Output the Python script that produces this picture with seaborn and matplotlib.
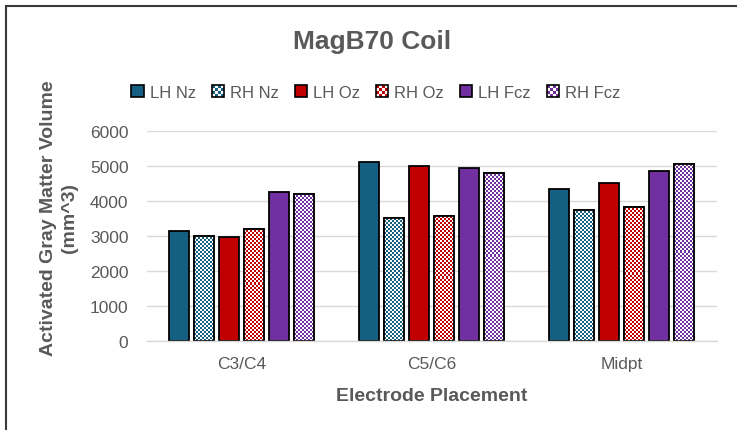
import numpy as np
import pandas as pd
import matplotlib
matplotlib.use("Agg")
import matplotlib.pyplot as plt
import seaborn as sns
from matplotlib.patches import Rectangle, Patch
from matplotlib.legend_handler import HandlerBase

# ---------------- data ----------------
categories = ["C3/C4", "C5/C6", "Midpt"]
series = ["LH Nz", "RH Nz", "LH Oz", "RH Oz", "LH Fcz", "RH Fcz"]
lh_nz = [3135, 5105, 4345]
rh_nz = [3000, 3525, 3735]
lh_oz = [2970, 5010, 4515]
rh_oz = [3210, 3580, 3830]
lh_fcz = [4250, 4945, 4860]
rh_fcz = [4190, 4810, 5065]
yticks = [0, 1000, 2000, 3000, 4000, 5000, 6000]

values = [lh_nz, rh_nz, lh_oz, rh_oz, lh_fcz, rh_fcz]
df = pd.DataFrame(
    [(c, s, v[i]) for s, v in zip(series, values) for i, c in enumerate(categories)],
    columns=["Placement", "Series", "Volume"],
)

# ---------------- style ----------------
BLUE, RED, PURPLE = "#156082", "#C00000", "#7030A0"
palette = {"LH Nz": BLUE, "RH Nz": BLUE, "LH Oz": RED, "RH Oz": RED,
           "LH Fcz": PURPLE, "RH Fcz": PURPLE}
checkered = {"RH Nz", "RH Oz", "RH Fcz"}
TXT = "#595959"
GRID = "#D9D9D9"

sns.set_theme(style="white")
plt.rcParams["font.family"] = ["Liberation Sans", "DejaVu Sans"]

W_PX, H_PX = 737, 431
fig = plt.figure(figsize=(W_PX / 100, H_PX / 100), dpi=100)
ax = fig.add_axes([146.5 / W_PX, 89 / H_PX, 570 / W_PX, 210 / H_PX])

sns.barplot(data=df, x="Placement", y="Volume", hue="Series",
            order=categories, hue_order=series, palette=palette,
            saturation=1, width=0.79, gap=0.18, edgecolor="black",
            linewidth=1.3, errorbar=None, legend=False, ax=ax)

ax.set_xlim(-0.5, len(categories) - 0.5)
ax.set_ylim(0, 6000)
ax.set_yticks(yticks)
ax.set_yticklabels([str(t) for t in yticks])
ax.set_axisbelow(True)
ax.yaxis.grid(True, color=GRID, lw=1.0)
ax.xaxis.grid(False)
for side in ["left", "right", "top"]:
    ax.spines[side].set_visible(False)
ax.spines["bottom"].set_color(GRID)
ax.spines["bottom"].set_linewidth(1.0)
ax.tick_params(axis="both", length=0, colors=TXT, labelsize=12.5)
ax.tick_params(axis="y", pad=13)
ax.tick_params(axis="x", pad=11)
ax.set_xlabel("")
ax.set_ylabel("")

# ---------------- checkerboard fills ----------------
CELL = 2
for name, cont in zip(series, ax.containers):
    if name not in checkered:
        continue
    for p in cont.patches:
        x0, y0 = p.get_x(), p.get_y()
        x1, y1 = x0 + p.get_width(), y0 + p.get_height()
        (dx0, dy0), (dx1, dy1) = ax.transData.transform([(x0, y0), (x1, y1)])
        wpx = max(int(round(dx1 - dx0)), 1)
        hpx = max(int(round(dy1 - dy0)), 1)
        yy, xx = np.indices((hpx, wpx))
        mask = ((xx // CELL + yy // CELL) % 2) == 0
        img = np.zeros((hpx, wpx, 4))
        img[mask] = (1, 1, 1, 1)
        im = ax.imshow(img, extent=(x0, x1, y0, y1), origin="lower",
                       interpolation="none", aspect="auto",
                       zorder=p.get_zorder() + 0.1)
        im.set_clip_path(p)
        ax.add_patch(Rectangle((x0, y0), p.get_width(), p.get_height(),
                               fill=False, edgecolor="black", lw=1.3,
                               zorder=p.get_zorder() + 0.2))

ax.set_xlim(-0.5, len(categories) - 0.5)
ax.set_ylim(0, 6000)


# ---------------- legend ----------------
class SwatchHandler(HandlerBase):
    def __init__(self, color, checker):
        super().__init__()
        self.color = color
        self.checker = checker

    def create_artists(self, legend, orig_handle, xdescent, ydescent,
                       width, height, fontsize, trans):
        x, y = -xdescent, -ydescent
        arts = [Rectangle((x, y), width, height, facecolor=self.color,
                          edgecolor="none", transform=trans)]
        if self.checker:
            n = 4
            cw, ch = width / n, height / n
            for i in range(n):
                for j in range(n):
                    if (i + j) % 2 == 0:
                        arts.append(Rectangle((x + i * cw, y + j * ch), cw, ch,
                                              facecolor="white", edgecolor="none",
                                              transform=trans))
        arts.append(Rectangle((x, y), width, height, fill=False,
                              edgecolor="black", lw=1.2, transform=trans))
        return arts


handles = [Patch(facecolor=palette[s], label=s) for s in series]
hmap = {h: SwatchHandler(palette[s], s in checkered) for h, s in zip(handles, series)}
leg = fig.legend(handles=handles, labels=series, handler_map=hmap,
                 loc="center", bbox_to_anchor=(0.51, 1 - 93 / H_PX),
                 ncol=6, frameon=False, fontsize=12,
                 handlelength=0.75, handleheight=0.75, handletextpad=0.35,
                 columnspacing=0.95)
for t in leg.get_texts():
    t.set_color(TXT)

# ---------------- titles ----------------
fig.text(0.505, 1 - 42 / H_PX, "MagB70 Coil", ha="center", va="center",
         fontsize=19, fontweight="bold", color=TXT)
fig.text(59 / W_PX, 1 - 218 / H_PX, "Activated Gray Matter Volume\n(mm^3)",
         rotation=90, ha="center", va="center", multialignment="center",
         fontsize=14, fontweight="bold", color=TXT, linespacing=1.25)
fig.text(432 / W_PX, 1 - 397 / H_PX, "Electrode Placement", ha="center",
         va="center", fontsize=14, fontweight="bold", color=TXT)

# chart border (top/left visible, extends past image)
fig.add_artist(Rectangle((5.5 / W_PX, -0.2), 1.2, 1.2 - 6.5 / H_PX,
                         transform=fig.transFigure, fill=False,
                         edgecolor="#3a3a3a", lw=1.5, clip_on=False))

fig.savefig("out.png", dpi=100)
